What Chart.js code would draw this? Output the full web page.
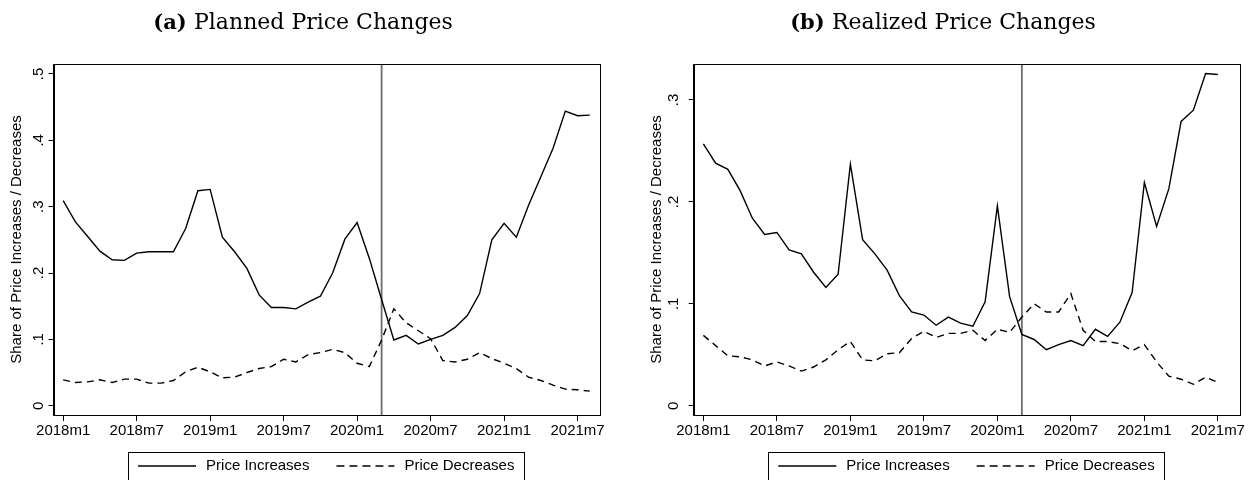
<!DOCTYPE html>
<html>
<head>
<meta charset="utf-8">
<title>Planned and Realized Price Changes</title>
<script src="https://cdn.jsdelivr.net/npm/chart.js@4.4.1/dist/chart.umd.min.js"></script>
<style>
  html, body { margin: 0; padding: 0; background: #fff; }
  #wrap { position: relative; width: 1255px; height: 480px; overflow: hidden; }
  canvas { position: absolute; top: 0; }
  #chartA { left: 0; }
  #chartB { left: 627px; }
</style>
</head>
<body>
<div id="wrap">
  <canvas id="chartA" width="627" height="480"></canvas>
  <canvas id="chartB" width="628" height="480"></canvas>
</div>
<script>
// Data (monthly, 2018m1 = index 0)
const xTickPos = [0, 6, 12, 18, 24, 30, 36, 42];
const xTickLabels = ['2018m1', '2018m7', '2019m1', '2019m7', '2020m1', '2020m7', '2021m1', '2021m7'];
const covidMonth = 26; // 2020m3

const seriesNames = ['Price Increases', 'Price Decreases'];

// (a) planned, 2018m1 - 2021m8
const plannedUp = [0.309, 0.277, 0.255, 0.233, 0.220, 0.219, 0.230, 0.232, 0.232, 0.232,
  0.267, 0.324, 0.326, 0.254, 0.232, 0.207, 0.167, 0.148, 0.148, 0.146,
  0.156, 0.165, 0.200, 0.251, 0.276, 0.222, 0.160, 0.099, 0.106, 0.093,
  0.100, 0.106, 0.118, 0.136, 0.169, 0.250, 0.275, 0.254, 0.302, 0.345,
  0.388, 0.444, 0.437, 0.438];
const plannedDown = [0.039, 0.035, 0.036, 0.039, 0.035, 0.040, 0.040, 0.034, 0.034, 0.038,
  0.051, 0.058, 0.051, 0.042, 0.043, 0.050, 0.056, 0.059, 0.070, 0.066,
  0.077, 0.080, 0.085, 0.080, 0.064, 0.059, 0.099, 0.146, 0.125, 0.113,
  0.101, 0.068, 0.066, 0.070, 0.080, 0.071, 0.064, 0.056, 0.043, 0.038,
  0.031, 0.025, 0.024, 0.022];

// (b) realized, 2018m1 - 2021m7
const realizedUp = [0.257, 0.238, 0.232, 0.211, 0.184, 0.168, 0.170, 0.153, 0.149, 0.131,
  0.116, 0.129, 0.237, 0.163, 0.149, 0.133, 0.108, 0.092, 0.089, 0.079,
  0.087, 0.081, 0.078, 0.102, 0.196, 0.107, 0.070, 0.065, 0.055, 0.060,
  0.064, 0.059, 0.075, 0.068, 0.082, 0.111, 0.219, 0.176, 0.213, 0.279,
  0.290, 0.326, 0.325];
const realizedDown = [0.069, 0.059, 0.049, 0.048, 0.045, 0.039, 0.043, 0.039, 0.034, 0.038,
  0.045, 0.055, 0.063, 0.045, 0.044, 0.051, 0.052, 0.066, 0.073, 0.067,
  0.071, 0.071, 0.074, 0.064, 0.075, 0.072, 0.087, 0.100, 0.092, 0.092,
  0.110, 0.074, 0.063, 0.063, 0.061, 0.054, 0.060, 0.043, 0.029, 0.026,
  0.021, 0.028, 0.023];

const yTicksA = [0, 0.1, 0.2, 0.3, 0.4, 0.5];
const yTicksB = [0, 0.1, 0.2, 0.3];

const SANS = '"Liberation Sans", Arial, sans-serif';
const SERIF = '"DejaVu Serif", serif';
Chart.defaults.font.family = SANS;
Chart.defaults.font.size = 15;
Chart.defaults.color = '#000';

// Stata style number: .1 instead of 0.1
function stataNum(v) {
  if (Math.abs(v) < 1e-9) return '0';
  return v.toFixed(1).replace(/^0/, '');
}

function toPoints(arr) {
  return arr.map((v, i) => ({ x: i, y: v }));
}

// frame, event line, rotated y labels, panel title and boxed legend
const stataPlugin = {
  id: 'stata',
  beforeDatasetsDraw(chart) {
    const { ctx, chartArea: a, scales: { x } } = chart;
    const vx = x.getPixelForValue(covidMonth);
    ctx.save();
    ctx.strokeStyle = '#6e6e6e';
    ctx.lineWidth = 1.8;
    ctx.beginPath();
    ctx.moveTo(vx, a.top);
    ctx.lineTo(vx, a.bottom);
    ctx.stroke();
    ctx.restore();
  },
  afterDraw(chart, args, opts) {
    const { ctx, chartArea: a, scales: { y } } = chart;
    ctx.save();

    // plot box
    ctx.strokeStyle = '#000';
    ctx.lineWidth = 1;
    ctx.strokeRect(Math.round(a.left) + 0.5, Math.round(a.top) + 0.5,
      Math.round(a.right - a.left), Math.round(a.bottom - a.top));

    // y tick labels, vertical like Stata
    ctx.fillStyle = '#000';
    ctx.font = '15px ' + SANS;
    ctx.textAlign = 'center';
    ctx.textBaseline = 'middle';
    y.ticks.forEach(t => {
      const py = y.getPixelForValue(t.value);
      ctx.save();
      ctx.translate(opts.tickLabelX, py);
      ctx.rotate(-Math.PI / 2);
      ctx.fillText(stataNum(t.value), 0, 0);
      ctx.restore();
    });

    // title: bold letter + normal text
    ctx.textAlign = 'left';
    ctx.textBaseline = 'alphabetic';
    const boldFont = 'bold 21px ' + SERIF;
    const normFont = '22px ' + SERIF;
    ctx.font = boldFont;
    const w1 = ctx.measureText(opts.title[0] + ' ').width;
    ctx.font = normFont;
    const w2 = ctx.measureText(opts.title[1]).width;
    let tx = opts.titleX - (w1 + w2) / 2;
    ctx.font = boldFont;
    ctx.fillText(opts.title[0] + ' ', tx, 29);
    ctx.font = normFont;
    ctx.fillText(opts.title[1], tx + w1, 29);

    // legend
    ctx.font = '15px ' + SANS;
    const sample = 58, gapText = 10, gapItem = 27, boxPad = 10;
    const items = chart.data.datasets.map(d => ({
      label: d.label, dash: d.borderDash || [], w: ctx.measureText(d.label).width
    }));
    let W = 0;
    items.forEach((it, i) => { W += sample + gapText + it.w + (i > 0 ? gapItem : 0); });
    const cx = (a.left + a.right) / 2;
    const top = chart.height - 28;
    const ly = top + 14;
    ctx.lineWidth = 1;
    ctx.strokeStyle = '#000';
    ctx.strokeRect(Math.round(cx - W / 2 - boxPad) + 0.5, top + 0.5, Math.round(W + 2 * boxPad), 40);
    let lx = cx - W / 2;
    items.forEach(it => {
      ctx.setLineDash(it.dash.length ? [8, 5] : []);
      ctx.lineWidth = 1.3;
      ctx.beginPath();
      ctx.moveTo(lx, ly);
      ctx.lineTo(lx + sample, ly);
      ctx.stroke();
      ctx.setLineDash([]);
      ctx.textBaseline = 'middle';
      ctx.fillText(it.label, lx + sample + gapText, ly);
      lx += sample + gapText + it.w + gapItem;
    });

    ctx.restore();
  }
};

function makePanel(id, p) {
  const ctx = document.getElementById(id).getContext('2d');
  return new Chart(ctx, {
    type: 'line',
    data: {
      datasets: [
        { label: seriesNames[0], data: toPoints(p.up), borderColor: '#000', borderWidth: 1.4,
          pointRadius: 0, tension: 0 },
        { label: seriesNames[1], data: toPoints(p.down), borderColor: '#000', borderWidth: 1.4,
          borderDash: [7, 5], pointRadius: 0, tension: 0 }
      ]
    },
    options: {
      responsive: false,
      animation: false,
      layout: { padding: { top: 64, right: p.padRight, bottom: 28, left: 0 } },
      plugins: {
        legend: { display: false },
        tooltip: { enabled: false },
        stata: { title: p.title, titleX: p.titleX, tickLabelX: p.tickLabelX }
      },
      scales: {
        x: {
          type: 'linear',
          min: -0.79,
          max: 43.75,
          afterBuildTicks: s => { s.ticks = xTickPos.map(v => ({ value: v })); },
          afterFit: s => { s.height = 37; },
          ticks: {
            autoSkip: false,
            maxRotation: 0,
            padding: 1,
            callback: v => xTickLabels[xTickPos.indexOf(v)]
          },
          grid: { drawOnChartArea: false, drawTicks: true, tickLength: 6, color: '#000' },
          border: { display: true, color: '#000' }
        },
        y: {
          min: p.yMin,
          max: p.yMax,
          afterBuildTicks: s => { s.ticks = p.yTicks.map(v => ({ value: v })); },
          afterFit: s => { s.width = p.axisWidth; },
          ticks: { display: false },
          grid: { drawOnChartArea: false, drawTicks: true, tickLength: 5, color: '#000' },
          border: { display: true, color: '#000' },
          title: {
            display: true,
            text: 'Share of Price Increases / Decreases',
            font: { size: 15 },
            padding: { top: p.yTitlePad, bottom: 0 }
          }
        }
      }
    },
    plugins: [stataPlugin]
  });
}

makePanel('chartA', {
  up: plannedUp, down: plannedDown, yTicks: yTicksA,
  yMin: -0.014, yMax: 0.515,
  title: ['(a)', 'Planned Price Changes'], titleX: 303,
  axisWidth: 53.5, padRight: 28, tickLabelX: 39, yTitlePad: 7.7
});

makePanel('chartB', {
  up: realizedUp, down: realizedDown, yTicks: yTicksB,
  yMin: -0.0091, yMax: 0.3353,
  title: ['(b)', 'Realized Price Changes'], titleX: 316,
  axisWidth: 66.7, padRight: 15.7, tickLabelX: 47.3, yTitlePad: 20.7
});
</script>
</body>
</html>
